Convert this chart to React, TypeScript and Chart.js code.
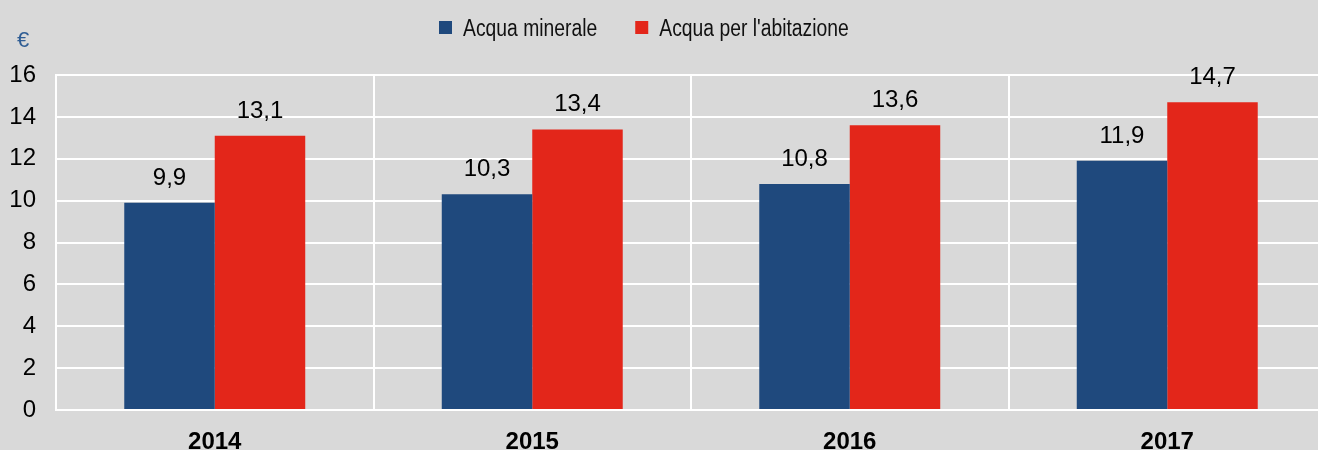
import React, { useEffect, useRef } from "react";
import { Chart, registerables } from "chart.js";

Chart.register(...registerables);

const years = ["2014", "2015", "2016", "2017"];
const acquaMinerale = [9.9, 10.3, 10.8, 11.9];
const acquaAbitazione = [13.1, 13.4, 13.6, 14.7];
const seriesNames = ["Acqua minerale", "Acqua per l'abitazione"];
const seriesColors = ["#1f497d", "#e3261a"];
const unitLabel = "€";

const FONT = "'Liberation Sans', Arial, sans-serif";

const fmt = (v: number) => v.toFixed(1).replace(".", ",");

const overlayPlugin = {
  id: "overlay",
  afterDatasetsDraw(chart: any) {
    const ctx = chart.ctx;
    ctx.save();
    // data labels
    ctx.fillStyle = "#000";
    ctx.font = `24px ${FONT}`;
    ctx.textAlign = "center";
    ctx.textBaseline = "alphabetic";
    chart.data.datasets.forEach((ds: any, i: number) => {
      const meta = chart.getDatasetMeta(i);
      meta.data.forEach((el: any, j: number) => {
        ctx.fillText(fmt(ds.data[j]), el.x, el.y - 18);
      });
    });
    // unit label
    ctx.fillStyle = "#2f5d94";
    ctx.font = `22px ${FONT}`;
    ctx.textAlign = "center";
    ctx.fillText(unitLabel, 23, 47);
    // legend
    let x = 439;
    const sx = 0.84;
    ctx.font = `23px ${FONT}`;
    ctx.textAlign = "left";
    seriesNames.forEach((name, i) => {
      ctx.fillStyle = seriesColors[i];
      ctx.fillRect(x, 21, 13, 13);
      x += 24;
      ctx.fillStyle = "#111";
      ctx.save();
      ctx.translate(x, 36);
      ctx.scale(sx, 1);
      ctx.fillText(name, 0, 0);
      ctx.restore();
      x += ctx.measureText(name).width * sx + 38;
    });
    ctx.restore();
  },
};

export default function App() {
  const ref = useRef<HTMLCanvasElement>(null);
  useEffect(() => {
    if (!ref.current) return;
    const chart = new Chart(ref.current, {
      type: "bar",
      data: {
        labels: years,
        datasets: [
          {
            label: seriesNames[0],
            data: acquaMinerale,
            backgroundColor: seriesColors[0],
            categoryPercentage: 0.57,
            barPercentage: 1,
          },
          {
            label: seriesNames[1],
            data: acquaAbitazione,
            backgroundColor: seriesColors[1],
            categoryPercentage: 0.57,
            barPercentage: 1,
          },
        ],
      },
      options: {
        animation: false,
        responsive: false,
        maintainAspectRatio: false,
        devicePixelRatio: 1,
        layout: { padding: { top: 75, right: 0, left: 0, bottom: 0 } },
        plugins: {
          legend: { display: false },
          tooltip: { enabled: false },
        },
        scales: {
          x: {
            grid: {
              color: (c: any) => (c.index === years.length ? "rgba(0,0,0,0)" : "#ffffff"),
              lineWidth: 2,
              drawTicks: false,
              offset: true,
            },
            border: { color: "#ffffff", width: 2 },
            ticks: {
              color: "#000",
              font: { family: FONT, size: 24, weight: "bold" },
              padding: 18,
            },
            afterFit(scale: any) {
              scale.height = 40;
            },
          },
          y: {
            min: 0,
            max: 16,
            grid: { color: "#ffffff", lineWidth: 2, drawTicks: false },
            border: { color: "#ffffff", width: 2 },
            ticks: {
              stepSize: 2,
              color: "#000",
              font: { family: FONT, size: 24 },
              padding: 20,
            },
            afterFit(scale: any) {
              scale.width = 56;
            },
          },
        },
      },
      plugins: [overlayPlugin],
    });
    return () => chart.destroy();
  }, []);
  return (
    <div
      style={{
        position: "absolute",
        left: 0,
        top: 0,
        width: 1318,
        height: 450,
        overflow: "hidden",
        background: "#d9d9d9",
      }}
    >
      <canvas ref={ref} width={1326} height={450} style={{ display: "block" }} />
    </div>
  );
}
